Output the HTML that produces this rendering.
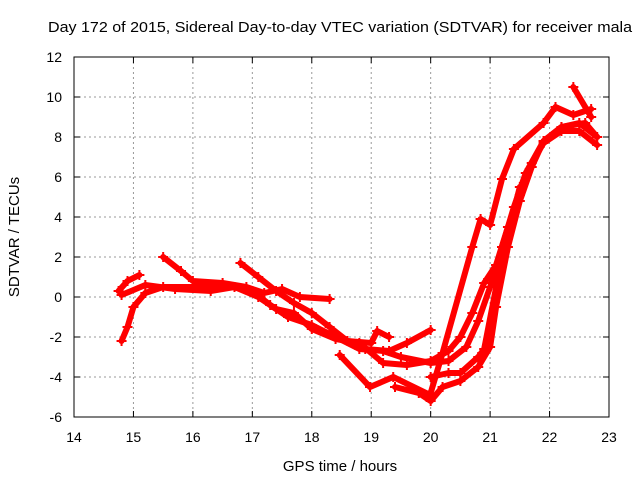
<!DOCTYPE html>
<html><head><meta charset="utf-8"><style>
body{margin:0;background:#fff}
svg{font-family:"Liberation Sans",sans-serif;font-size:14px}
</style></head><body>
<svg id="chart" width="640" height="480">
<text x="48" y="32" font-size="15" textLength="584" lengthAdjust="spacingAndGlyphs">Day 172 of 2015, Sidereal Day-to-day VTEC variation (SDTVAR) for receiver mala</text>
<text x="340" y="471" font-size="15" text-anchor="middle">GPS time / hours</text>
<text transform="translate(19,237) rotate(-90)" font-size="15" text-anchor="middle">SDTVAR / TECUs</text>
<g id="grid"></g><g id="series"></g>
<rect x="74" y="57" width="535" height="360" fill="none" stroke="#000" stroke-width="1"/>
</svg>
<script>
const xTicks=[14,15,16,17,18,19,20,21,22,23];
const yTicks=[-6,-4,-2,0,2,4,6,8,10,12];
const trA=[[14.75,0.3],[14.9,0.8],[15.1,1.1]];
const trB=[[14.8,-2.2],[14.9,-1.5],[15.0,-0.5],[15.2,0.2],[15.5,0.5],[16,0.5],[16.5,0.6],[17,0.3],[17.3,-0.4],[17.6,-1.0],[18,-1.4],[18.4,-2.0],[18.8,-2.6],[19.2,-2.7],[19.5,-3.0],[20,-3.3],[20.3,-3.2],[20.6,-2.5],[20.8,-1.2],[21,0.5],[21.2,2.5],[21.4,4.5],[21.6,6.2],[21.9,7.8],[22.2,8.5],[22.5,8.7],[22.8,8.0]];
const trC=[[15.5,2.0],[15.8,1.3],[16,0.8],[16.5,0.7],[16.9,0.5],[17.2,0.2],[17.5,0.4],[17.8,0.0],[18.3,-0.1]];
const trD=[[16.8,1.7],[17.1,1.0],[17.4,0.3],[17.7,-0.3],[18,-0.8],[18.3,-1.5],[18.6,-2.2],[19,-2.3],[19.1,-1.7],[19.3,-2.0]];
const trE=[[14.8,0.1],[15.2,0.6],[15.7,0.4],[16.3,0.3],[16.7,0.5],[17.1,0.0],[17.4,-0.6],[17.7,-0.8],[18,-1.6],[18.4,-2.1],[18.8,-2.3],[19.2,-3.3],[19.6,-3.4],[20.0,-3.2],[20.3,-2.7],[20.5,-2.0],[20.7,-0.8],[20.9,0.7],[21.1,1.6],[21.3,3.5],[21.5,5.1],[21.7,6.7],[21.9,7.7],[22.2,8.3],[22.5,8.3],[22.8,7.6]];
const trF=[[18.47,-2.9],[18.98,-4.5],[19.37,-4.0],[19.99,-4.9],[20.2,-2.8],[20.7,2.5],[20.84,3.9],[21.0,3.6],[21.2,5.9],[21.4,7.4],[21.9,8.7],[22.1,9.5],[22.4,9.1],[22.7,9.4]];
const trG=[[22.4,10.5],[22.7,9.0]];
const trH=[[19.4,-4.5],[19.8,-4.8],[20.0,-5.2],[20.2,-4.5],[20.5,-4.2],[20.8,-3.5],[21,-2.5],[21.1,-0.5],[21.3,2.5],[21.5,4.8],[21.7,6.5],[21.9,7.8],[22.2,8.5],[22.6,8.7],[22.8,8.0]];
const trI=[[20.0,-4.0],[20.3,-3.8],[20.5,-3.8],[20.8,-3.0],[20.9,-2.6],[21.2,2.0],[21.5,5.5]];
const trJ=[[18.9,-2.6],[19.3,-2.7],[19.6,-2.3],[20.0,-1.65]];
const allSeries=[trA,trB,trC,trD,trE,trF,trG,trH,trI,trJ];
const X=h=>74+(h-14)*535/9, Y=v=>57+(12-v)*20;
const NS='http://www.w3.org/2000/svg';
const grid=document.getElementById('grid'), ser=document.getElementById('series');
function mk(tag,attrs,parent){const e=document.createElementNS(NS,tag);for(const k in attrs)e.setAttribute(k,attrs[k]);parent.appendChild(e);return e;}
xTicks.forEach(t=>{
  if(t>14&&t<23){const l=mk('line',{x1:X(t),x2:X(t),y1:57,y2:417,stroke:'#999','stroke-dasharray':'2,3'},grid);
  
  }
  mk('line',{x1:X(t),x2:X(t),y1:417,y2:411,stroke:'#000'},grid);
  mk('line',{x1:X(t),x2:X(t),y1:57,y2:63,stroke:'#000'},grid);
  const tx=mk('text',{x:X(t),y:442,'text-anchor':'middle'},grid);tx.textContent=t;
  
  
});
yTicks.forEach(t=>{
  if(t>-6&&t<12){const l=mk('line',{x1:74,x2:609,y1:Y(t),y2:Y(t),stroke:'#999','stroke-dasharray':'2,3'},grid);
  
  }
  mk('line',{x1:74,x2:80,y1:Y(t),y2:Y(t),stroke:'#000'},grid);
  mk('line',{x1:603,x2:609,y1:Y(t),y2:Y(t),stroke:'#000'},grid);
  const tx=mk('text',{x:62,y:Y(t)+5,'text-anchor':'end'},grid);tx.textContent=t;
  
  
});
allSeries.forEach((s,i)=>{
  const p=mk('polyline',{points:s.map(d=>X(d[0])+','+Y(d[1])).join(' '),fill:'none',stroke:'#f00','stroke-width':6,'stroke-linejoin':'round','stroke-linecap':'round'},ser);
  
  
  s.forEach(d=>{
    const m=mk('path',{d:`M${X(d[0])-5},${Y(d[1])}h10M${X(d[0])},${Y(d[1])-5}v10`,stroke:'#f00','stroke-width':2},ser);
    
    
  });
});
</script>
</body></html>
